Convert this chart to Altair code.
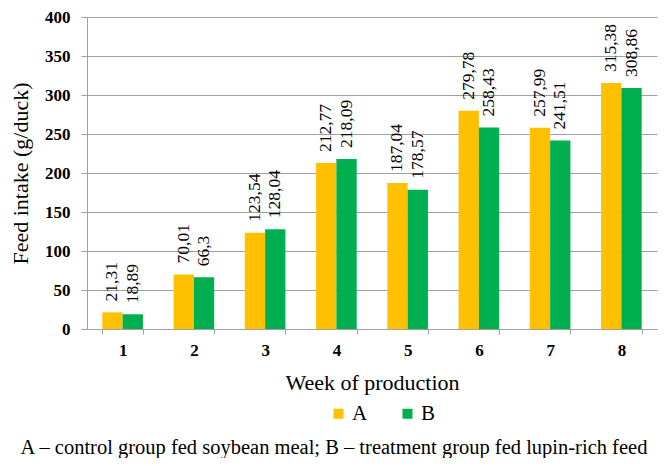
import altair as alt
import pandas as pd

weeks = ["1", "2", "3", "4", "5", "6", "7", "8"]
group_a = [21.31, 70.01, 123.54, 212.77, 187.04, 279.78, 257.99, 315.38]
group_b = [18.89, 66.3, 128.04, 218.09, 178.57, 258.43, 241.51, 308.86]
groups = ["A", "B"]
colors = ["#FFC000", "#00B050"]
y_ticks = [0, 50, 100, 150, 200, 250, 300, 350, 400]
footnote = "A \u2013 control group fed soybean meal; B \u2013 treatment group fed lupin-rich feed"

rows = []
for i, w in enumerate(weeks):
    for g, vals in zip(groups, [group_a, group_b]):
        rows.append({"week": w, "group": g, "value": vals[i],
                     "label": str(vals[i]).replace(".", ",")})
df = pd.DataFrame(rows)

FONT = "'Liberation Serif', 'Times New Roman', serif"
GRID = "#a0a0a0"
W, H = 570, 312

x = alt.X("week:N", sort=weeks,
          scale=alt.Scale(paddingInner=0.43, paddingOuter=0.215),
          axis=alt.Axis(title="Week of production", labelAngle=0, tickBand="extent",
                        labelFont=FONT, labelFontSize=17, labelFontWeight="bold",
                        labelColor="black", labelPadding=8, tickSize=5,
                        titleFont=FONT, titleFontSize=22, titleFontWeight="normal",
                        titleColor="black", titleX=W / 2, titleY=53, titleBaseline="middle"))
y = alt.Y("value:Q",
          scale=alt.Scale(domain=[0, 400]),
          axis=alt.Axis(title="Feed intake (g/duck)", values=y_ticks, grid=True,
                        gridColor=GRID, tickSize=6, labelPadding=11,
                        labelFont=FONT, labelFontSize=17, labelFontWeight="bold",
                        labelColor="black",
                        titleFont=FONT, titleFontSize=22, titleFontWeight="normal",
                        titleColor="black", titleX=-67, titleY=H / 2,
                        titleBaseline="middle"))
xo = alt.XOffset("group:N", sort=groups, scale=alt.Scale(paddingInner=0, paddingOuter=0))

bars = alt.Chart(df).mark_bar().encode(
    x=x, y=y, xOffset=xo,
    color=alt.Color("group:N", sort=groups,
                    scale=alt.Scale(domain=groups, range=colors),
                    legend=alt.Legend(title=None, orient="none", direction="horizontal",
                                      legendX=241, legendY=386, symbolType="square",
                                      symbolSize=100, symbolStrokeWidth=0,
                                      labelFont=FONT, labelFontSize=21,
                                      labelColor="black", labelOffset=3,
                                      columnPadding=29)),
)

labels = alt.Chart(df).mark_text(angle=270, align="left", baseline="middle", dx=11,
                                 font=FONT, fontSize=17.5, color="black").encode(
    x=x, y=y, xOffset=xo, text="label:N",
)

note = alt.Chart(pd.DataFrame({"note": [footnote]})).mark_text(
    align="center", baseline="alphabetic", font=FONT, fontSize=20.5, color="black"
).encode(text="note:N", x=alt.value(247), y=alt.value(437))

chart = alt.layer(bars, labels, note).properties(
    width=W, height=H,
    autosize=alt.AutoSizeParams(type="none"),
    padding={"left": 79, "top": 9, "right": 3, "bottom": 129},
).configure_axis(
    domainColor=GRID, tickColor=GRID, gridColor=GRID,
).configure_view(stroke=None)

chart.save("out.html", embed_options={"renderer": "svg", "actions": False})
